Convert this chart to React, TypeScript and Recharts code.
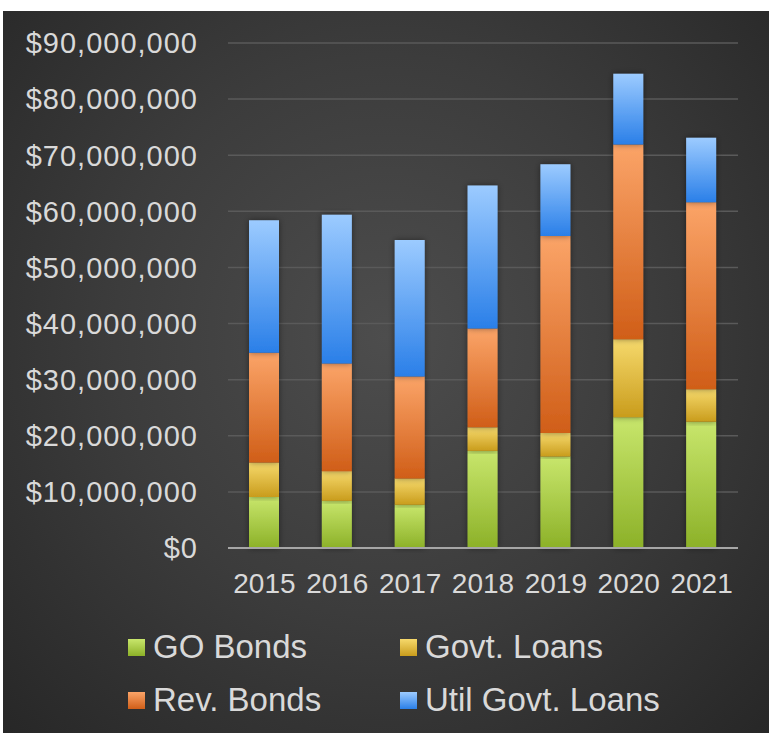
import React from 'react';
import { BarChart, Bar, XAxis, YAxis, CartesianGrid, Legend, Rectangle } from 'recharts';

const categories = ['2015', '2016', '2017', '2018', '2019', '2020', '2021'];
// values in millions of dollars
const goBonds = [9.1, 8.4, 7.7, 17.3, 16.3, 23.3, 22.5];
const govtLoans = [6.15, 5.3, 4.7, 4.2, 4.2, 13.9, 5.8];
const revBonds = [19.55, 19.2, 18.15, 17.6, 35.1, 34.7, 33.3];
const utilGovtLoans = [23.6, 26.5, 24.35, 25.5, 12.8, 12.6, 11.5];
const yTicks = [0, 10000000, 20000000, 30000000, 40000000, 50000000, 60000000, 70000000, 80000000, 90000000];

const seriesNames = ['GO Bonds', 'Govt. Loans', 'Rev. Bonds', 'Util Govt. Loans'];
const seriesKeys = ['go', 'govt', 'rev', 'util'];

const data = categories.map((c, i) => ({
  year: c,
  go: goBonds[i] * 1e6,
  govt: govtLoans[i] * 1e6,
  rev: revBonds[i] * 1e6,
  util: utilGovtLoans[i] * 1e6,
}));

const gradients: Record<string, [string, string]> = {
  go: ['#c8e66c', '#8cb128'],
  govt: ['#f6d96c', '#c99c1c'],
  rev: ['#fba468', '#d05e18'],
  util: ['#9ccbff', '#2a7fe8'],
};

const fmt = (v: number) => '$' + Number(v).toLocaleString('en-US');

const ShadowRect = (props: any) => <Rectangle {...props} filter="url(#barShadow)" />;

const LegendContent = () => {
  const cols = [125, 397];
  const rows = [26, 79];
  return (
    <div style={{ position: 'relative', width: 766, height: 110 }}>
      {seriesKeys.map((k, i) => {
        const left = cols[i % 2];
        const top = rows[Math.floor(i / 2)];
        return (
          <div key={k} style={{ position: 'absolute', left, top: top - 20, height: 40, display: 'flex', alignItems: 'center', whiteSpace: 'nowrap' }}>
            <span style={{ display: 'inline-block', width: 17, height: 17, background: `linear-gradient(${gradients[k][0]}, ${gradients[k][1]})`, marginRight: 8 }} />
            <span style={{ color: '#d9d9d9', fontSize: 33, lineHeight: '40px' }}>{seriesNames[i]}</span>
          </div>
        );
      })}
    </div>
  );
};

export default function App() {
  return (
    <div style={{ position: 'fixed', left: 0, top: 0, width: 769, height: 733, background: '#ffffff', overflow: 'hidden', fontFamily: '"Liberation Sans", Arial, sans-serif' }}>
      <svg width={0} height={0} style={{ position: 'absolute' }}>
        <defs>
          {seriesKeys.map((k) => (
            <linearGradient key={k} id={`grad-${k}`} x1="0" y1="0" x2="0" y2="1">
              <stop offset="0%" stopColor={gradients[k][0]} />
              <stop offset="100%" stopColor={gradients[k][1]} />
            </linearGradient>
          ))}
          <filter id="barShadow" x="-50%" y="-10%" width="200%" height="120%">
            <feDropShadow dx="0" dy="0" stdDeviation="3" floodColor="#000" floodOpacity="0.45" />
          </filter>
        </defs>
      </svg>
      <div style={{ position: 'absolute', left: 3, top: 11, width: 766, height: 722, background: 'radial-gradient(ellipse at 50% 45%, #4d4d4d 0%, #3c3c3c 50%, #272727 100%)' }}>
        <BarChart width={766} height={722} data={data} margin={{ top: 32, right: 31, left: 0, bottom: 125 }} barSize={30}>
          <CartesianGrid vertical={false} stroke="#5a5a5a" strokeWidth={1.5} />
          <XAxis dataKey="year" height={60} axisLine={{ stroke: '#a6a6a6', strokeWidth: 2 }} tickLine={false} tickSize={0} tickMargin={25} tick={{ fill: '#d9d9d9', fontSize: 28 }} interval={0} />
          <YAxis domain={[0, 90000000]} ticks={yTicks} width={225} axisLine={false} tickLine={false} tickSize={0} tickMargin={30} tickFormatter={fmt} tick={{ fill: '#d9d9d9', fontSize: 29, letterSpacing: 1 }} />
          <Legend layout="vertical" align="center" verticalAlign="middle" wrapperStyle={{ position: 'absolute', left: 0, top: 610, width: 766 }} content={<LegendContent />} />
          {seriesKeys.map((k, i) => (
            <Bar key={k} dataKey={k} name={seriesNames[i]} stackId="a" fill={`url(#grad-${k})`} isAnimationActive={false} shape={ShadowRect} />
          ))}
        </BarChart>
      </div>
    </div>
  );
}
